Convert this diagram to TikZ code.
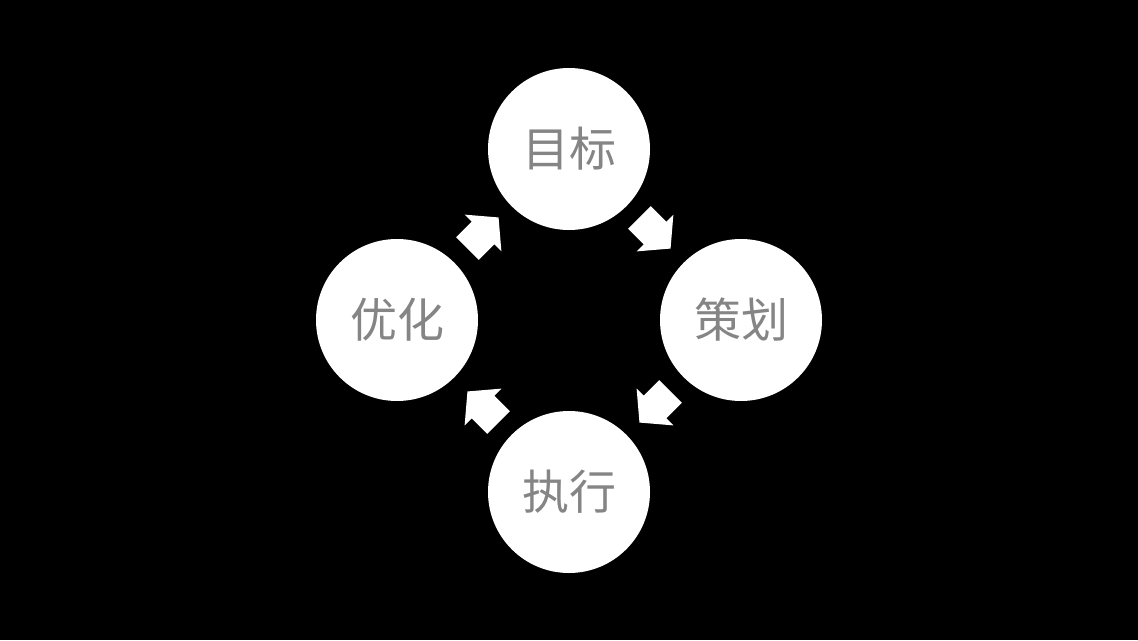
\documentclass[tikz,border=0pt]{standalone}
\usepackage{fontspec}
\newfontfamily\cjk{Noto Sans CJK SC}
\begin{document}
\begin{tikzpicture}[x=1pt,y=1pt,
  stage/.style={circle,fill=white,minimum size=162pt,inner sep=0pt,font=\cjk\fontsize{47pt}{50pt}\selectfont,text=black!48},
  blockarrow/.style={fill=white}]
\fill[black] (0,0) rectangle (1138,-640);
\useasboundingbox (0,0) rectangle (1138,-640);
\node[stage] (goal) at (569,-149) {目标};
\node[stage] (plan) at (741,-320) {策划};
\node[stage] (exec) at (569,-492) {执行};
\node[stage] (opt) at (397,-320) {优化};
\foreach \c/\ang in {(655,-233)/-45,(655,-407)/-135,(483,-407)/135,(483,-233)/45}{
  \fill[blockarrow,shift={\c},rotate=\ang] (-22,-16) -- (0,-16) -- (0,-26) -- (22,0) -- (0,26) -- (0,16) -- (-22,16) -- cycle;
}
\end{tikzpicture}
\end{document}
